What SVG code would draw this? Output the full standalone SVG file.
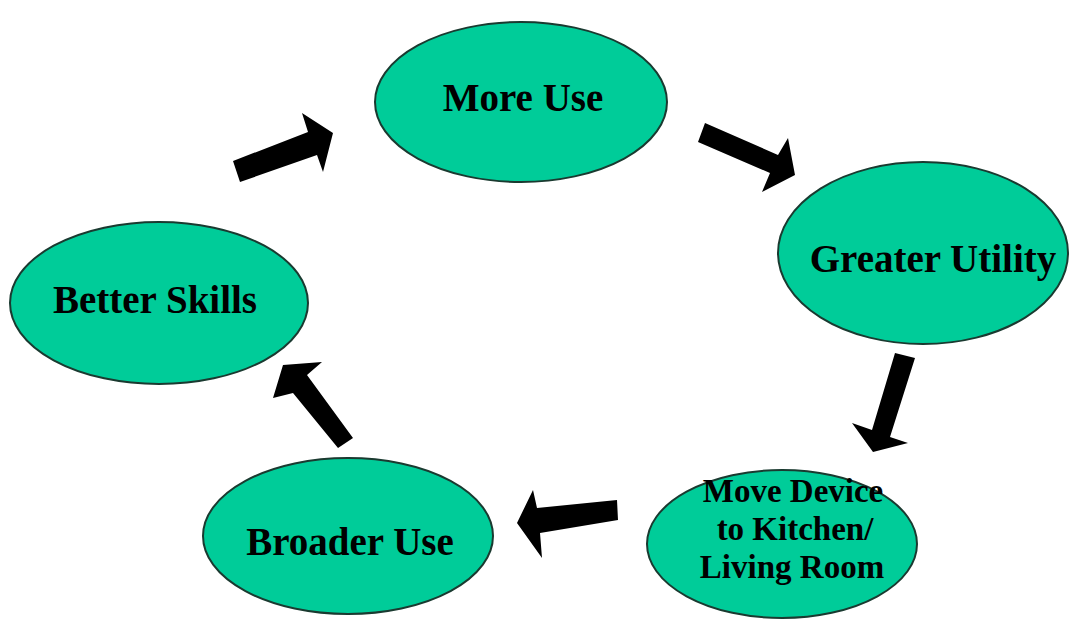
<svg xmlns="http://www.w3.org/2000/svg" width="1070" height="623" viewBox="0 0 1070 623">
<style>
.node ellipse{fill:#00CC99;stroke:#1a3a30;stroke-width:2}
.node text{font-family:"Liberation Serif","Times New Roman",serif;font-weight:bold;fill:#000;text-anchor:middle}
.big{font-size:39px}
.small{font-size:33px}
.arrow{fill:#000;stroke:none}
</style>
<rect width="1070" height="623" fill="#fff"/>
<g id="more-use" class="node">
<ellipse cx="521" cy="102" rx="146" ry="80"/>
<text class="big" x="523" y="111">More Use</text>
</g>
<g id="greater-utility" class="node">
<ellipse cx="923" cy="253" rx="145" ry="91"/>
<text class="big" x="933" y="272">Greater Utility</text>
</g>
<g id="move-device" class="node">
<ellipse cx="782" cy="544" rx="135" ry="74"/>
<text class="small" x="793" y="502">Move Device</text>
<text class="small" x="795" y="540">to Kitchen/</text>
<text class="small" x="792" y="578">Living Room</text>
</g>
<g id="broader-use" class="node">
<ellipse cx="348" cy="536" rx="145" ry="78"/>
<text class="big" x="350" y="555">Broader Use</text>
</g>
<g id="better-skills" class="node">
<ellipse cx="159" cy="303" rx="149" ry="81"/>
<text class="big" x="155" y="313">Better Skills</text>
</g>
<g id="connectors">
<polygon class="arrow" points="233,161 308,132 302,113 333,133 323,172 317,155 240,182"/>
<polygon class="arrow" points="705,123 778,155 788,138 795,175 762,192 770,173 698,142"/>
<polygon class="arrow" points="895,353 915,358 890,437 908,443 873,452 852,423 872,430"/>
<polygon class="arrow" points="617,500 537,508 533,490 517,523 542,558 540,533 618,520"/>
<polygon class="arrow" points="353,438 307,375 322,362 283,365 273,398 293,393 338,448"/>
</g>
</svg>
